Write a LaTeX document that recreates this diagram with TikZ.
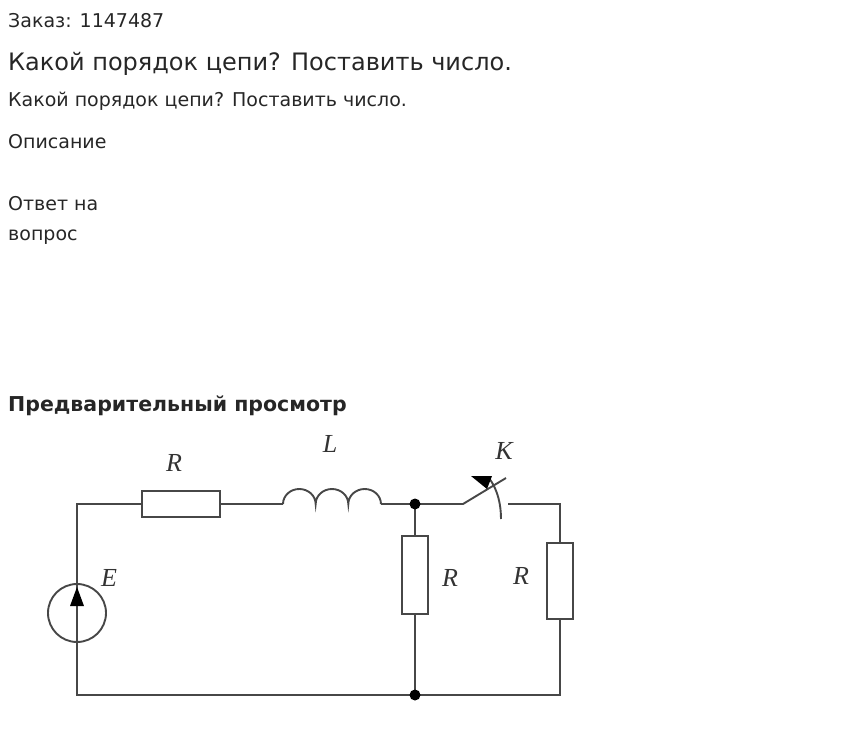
\documentclass[tikz,border=0pt]{standalone}
\usepackage{fontspec}
\setmainfont{DejaVu Sans}
\newfontfamily\serifit{Liberation Serif}
\begin{document}
\begin{tikzpicture}[x=1pt,y=-1pt,
  txt/.style={anchor=base west,inner sep=0,text=black!85},
  wire/.style={line width=1.9pt,black!72},
  res/.style={draw=black!72,line width=1.9pt,fill=white,inner sep=0,rectangle},
  lab/.style={font=\serifit\itshape\fontsize{26}{26}\selectfont,text=black!80,inner sep=0},
  dot/.style={circle,inner sep=0,minimum size=11pt}]
\useasboundingbox (0,0) rectangle (847,734);
\node[txt,font=\fontsize{19}{19}\selectfont] (t1) at (8,27) {Заказ: 1147487};
\node[txt,font=\fontsize{24}{24}\selectfont] (t2) at (8,70) {Какой порядок цепи? Поставить число.};
\node[txt,font=\fontsize{19}{19}\selectfont] (t3) at (8,106) {Какой порядок цепи? Поставить число.};
\node[txt,font=\fontsize{19}{19}\selectfont] (t4) at (8,148) {Описание};
\node[txt,font=\fontsize{19}{19}\selectfont] (t5) at (8,210) {Ответ на};
\node[txt,font=\fontsize{19}{19}\selectfont] (t6) at (8,240) {вопрос};
\node[txt,font=\bfseries\fontsize{20.5}{20.5}\selectfont] (t7) at (8,411) {Предварительный просмотр};
% circuit
\coordinate (tl) at (77,504); \coordinate (bl) at (77,695);
\node[dot] (n1) at (415,504) {}; \node[dot] (n2) at (415,695) {};
\coordinate (tr) at (560,504); \coordinate (br) at (560,695);
\node[res,minimum width=78pt,minimum height=26pt] (R1) at (181,504) {};
\node[res,minimum width=26pt,minimum height=78pt] (R2) at (415,575) {};
\node[res,minimum width=26pt,minimum height=76pt] (R3) at (560,581) {};
\node[circle,draw=black!72,line width=1.9pt,minimum size=58pt,inner sep=0] (E) at (77,613) {};
\coordinate (La) at (283,504); \coordinate (Lb) at (381,504);
\coordinate (s1) at (463,504); \coordinate (s2) at (508,504);
\draw[wire] (E.south) -- (bl) -- (n2.center) -- (br) -- (R3.south);
\draw[wire] (E.north) -- (tl) -- (R1.west);
\draw[wire] (R1.east) -- (La);
\draw[wire] (La) arc[start angle=180,end angle=0,x radius=16.33pt,y radius=15pt]
  arc[start angle=180,end angle=0,x radius=16.33pt,y radius=15pt]
  arc[start angle=180,end angle=0,x radius=16.33pt,y radius=15pt];
\draw[wire] (Lb) -- (n1.center) -- (R2.north); \draw[wire] (R2.south) -- (n2.center);
\draw[wire] (n1.center) -- (s1) -- (506,478);
\draw[wire] (s2) -- (tr) -- (R3.north);
\draw[wire] (489,478) .. controls (498,490) and (501,505) .. (501,519);
\fill[black] (471,476) -- (492,476) -- (487,489) -- cycle;
\draw[wire] (E.south) -- (E.north);
\fill[black] (77,587) -- (70,606) -- (84,606) -- cycle;
\fill[black] (n1.center) circle[radius=5.5pt];
\fill[black] (n2.center) circle[radius=5.5pt];
\node[lab] (lR1) at (174,463) {R};
\node[lab] (lL) at (330,444) {L};
\node[lab] (lK) at (504,451) {K};
\node[lab] (lE) at (109,578) {E};
\node[lab] (lR2) at (450,578) {R};
\node[lab] (lR3) at (521,576) {R};
\end{tikzpicture}
\end{document}
